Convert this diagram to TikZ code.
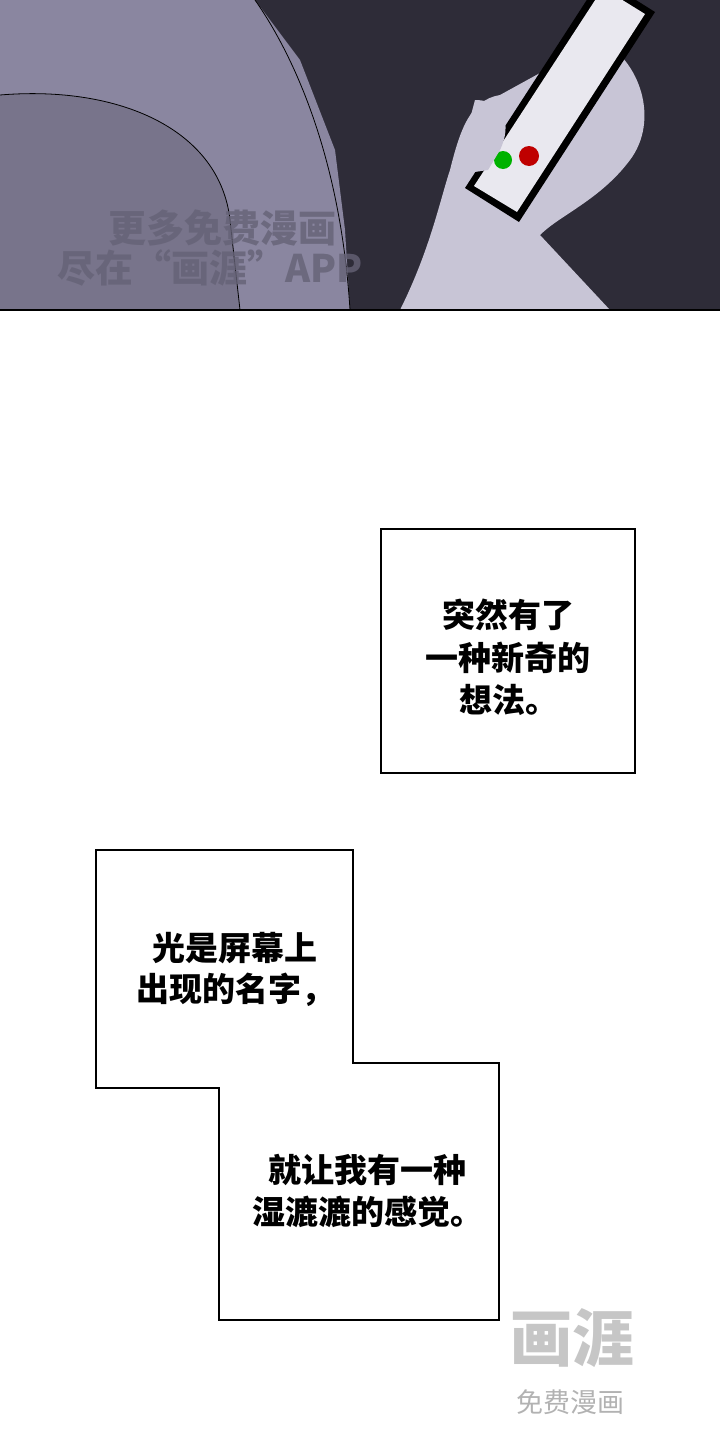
\documentclass[tikz,border=0pt]{standalone}
\usepackage{fontspec}
\newfontfamily\cjk{Noto Sans CJK SC}
\tikzset{
  panel/.style={draw=black, line width=1.6pt, fill=white},
  say/.style={font=\cjk\bfseries\fontsize{33}{38}\selectfont, inner sep=0pt},
  mark/.style={font=\cjk\bfseries\fontsize{38}{42}\selectfont, text=#1, inner sep=0pt}
}
\definecolor{night}{HTML}{2E2C38}
\definecolor{skin}{HTML}{8A86A0}
\definecolor{palm}{HTML}{C8C5D6}
\begin{document}
\begin{tikzpicture}[x=1pt,y=-1pt]
\useasboundingbox (0,0) rectangle (720,1440);
% top panel
\fill[night] (0,0) rectangle (720,310);
\fill[skin] (0,0) -- (255,0) -- (300,60) -- (335,150) -- (345,230) -- (350,310) -- (0,310) -- cycle;
\fill[skin!80!night] (0,95) .. controls (120,85) and (220,130) .. (230,220) -- (240,310) -- (0,310) -- cycle;
\draw[black, line width=0.8pt] (0,95) .. controls (120,85) and (220,130) .. (230,220) -- (240,310);
\draw[black, line width=0.8pt] (255,0) .. controls (290,50) and (340,150) .. (350,310);
\fill[palm] (400,310) .. controls (430,250) and (440,200) .. (450,170)
  .. controls (460,130) and (470,100) .. (500,95) -- (600,40)
  .. controls (640,60) and (660,120) .. (630,160)
  .. controls (600,200) and (560,215) .. (540,235) -- (610,310) -- cycle;
\fill[black] (465,188) -- (519,222) -- (655,12) -- (601,-22) -- cycle;
\fill[palm!40!white] (474,186) -- (517,212) -- (645,14) -- (603,-12) -- cycle;
\fill[green!70!black] (503,160) circle (9);
\fill[red!75!black] (529,156) circle (10);
\fill[palm] (475,100) .. controls (505,100) and (512,125) .. (500,150) -- (488,170) -- (455,175) -- cycle;
\draw[black, line width=2pt] (0,310) -- (720,310);
\node[mark=skin!60!night, opacity=0.8] (wm1) at (222,228) {更多免费漫画};
\node[mark=skin!60!night, opacity=0.8] (wm2) at (210,268) {尽在“画涯”APP};
% caption boxes
\draw[panel] (381,529) rectangle (635,773);
\node[say, anchor=west] (t1) at (442,615) {突然有了};
\node[say, anchor=west] (t2) at (425,658) {一种新奇的};
\node[say, anchor=west] (t3) at (459,700) {想法。};
\draw[panel] (96,850) -- (353,850) -- (353,1063) -- (499,1063) -- (499,1320)
  -- (219,1320) -- (219,1088) -- (96,1088) -- cycle;
\node[say, anchor=west] (t4) at (152,948) {光是屏幕上};
\node[say, anchor=west] (t5) at (136,990) {出现的名字，};
\node[say, anchor=west] (t6) at (268,1170) {就让我有一种};
\node[say, anchor=west] (t7) at (252,1212) {湿漉漉的感觉。};
% bottom mark
\node[font=\cjk\bfseries\fontsize{62}{64}\selectfont, text=gray!45] (logo) at (572,1338) {画涯};
\node[font=\cjk\fontsize{27}{30}\selectfont, text=gray!60] (logo2) at (570,1402) {免费漫画};
\end{tikzpicture}
\end{document}
